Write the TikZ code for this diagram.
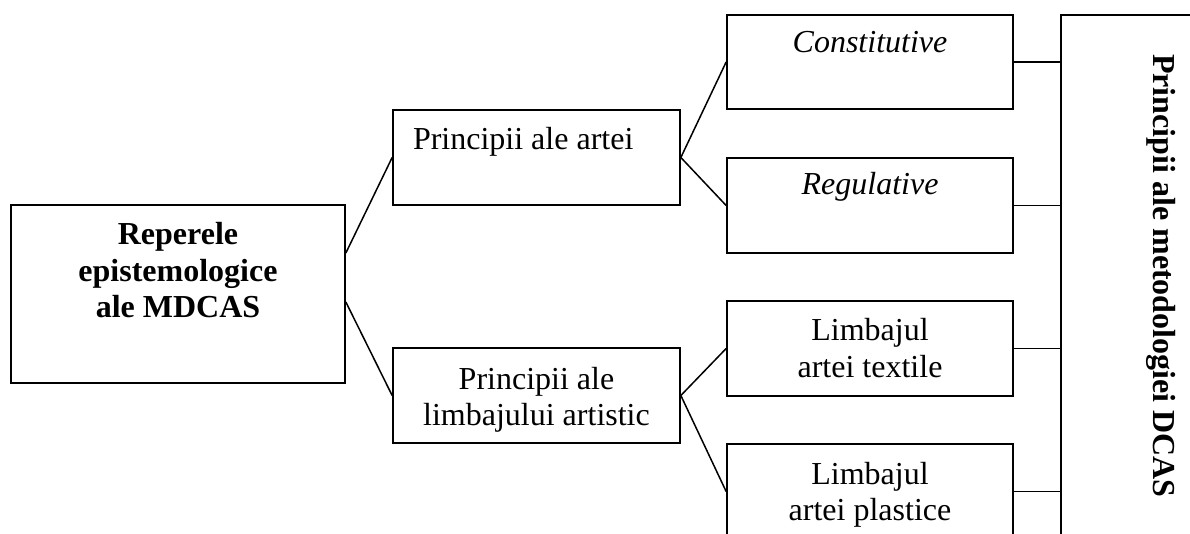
\documentclass[tikz,border=0pt]{standalone}
\usepackage{fontspec}
\setmainfont{Liberation Serif}
\newcommand\diagfont{\fontsize{32}{36.5}\selectfont}
\tikzset{
  box/.style={draw, line width=1.7pt, inner sep=0pt, font=\diagfont},
  link/.style={line width=1.5pt},
}
\begin{document}
\begin{tikzpicture}[x=1pt,y=-1pt]
\useasboundingbox (0,0) rectangle (1190,534);
\clip (0,0) rectangle (1190,534);

% left box
\node[box, minimum width=334pt, text height=40pt, text depth=138pt] (rep) at (178,294)
  {\parbox[t]{320pt}{\centering\bfseries Reperele\\ epistemologice\\ ale MDCAS}};

% middle boxes
\node[box, inner xsep=20pt, text height=40pt, text depth=55pt] (pa) at (536.5,157.5)
  {\parbox[t]{247pt}{\raggedright Principii ale artei}};
\node[box, minimum width=287pt, text height=41pt, text depth=54pt] (pl) at (536.5,395.5)
  {\parbox[t]{280pt}{\centering Principii ale\\ limbajului artistic}};

% right boxes
\node[box, minimum width=286pt, text height=38pt, text depth=56pt] (con) at (870,62)
  {\itshape Constitutive};
\node[box, minimum width=286pt, text height=37pt, text depth=58pt] (reg) at (870,205.5)
  {\itshape Regulative};
\node[box, minimum width=286pt, text height=39.5pt, text depth=55.5pt] (lt) at (870,348.5)
  {\parbox[t]{280pt}{\centering Limbajul\\ artei textile}};
\node[box, minimum width=286pt, text height=40pt, text depth=55pt] (lp) at (870,491.5)
  {\parbox[t]{280pt}{\centering Limbajul\\ artei plastice}};

% tall box on the right
\node[box, anchor=north west, minimum width=200pt, minimum height=600pt] (meth) at (1060,14) {};
\node[rotate=-90, font=\diagfont\bfseries, inner sep=0pt] (mtxt) at (1161,276)
  {Principii ale metodologiei DCAS};

% connectors
\draw[link] ([yshift=41pt]rep.east) -- (pa.west);
\draw[link] ([yshift=-8pt]rep.east) -- (pl.west);
\draw[link] (pa.east) -- (con.west);
\draw[link] (pa.east) -- (reg.west);
\draw[link] (pl.east) -- (lt.west);
\draw[link] (pl.east) -- (lp.west);
\draw[link] (con.east) -- ([xshift=2pt]con.east -| meth.west);
\draw[link] (reg.east) -- ([xshift=2pt]reg.east -| meth.west);
\draw[link] (lt.east) -- ([xshift=2pt]lt.east -| meth.west);
\draw[link] (lp.east) -- ([xshift=2pt]lp.east -| meth.west);
\end{tikzpicture}
\end{document}
